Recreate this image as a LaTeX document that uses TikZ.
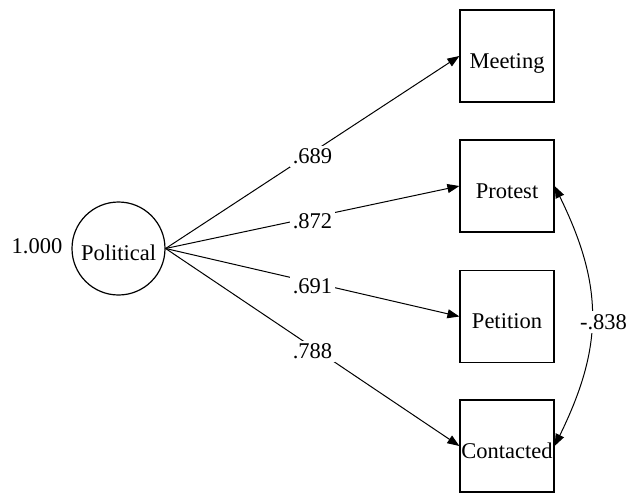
\documentclass[tikz,border=0pt]{standalone}
\usepackage{fontspec}
\setmainfont{Liberation Serif}
\usetikzlibrary{arrows.meta}
\begin{document}
\begin{tikzpicture}[x=0.5pt,y=-0.5pt,
  every node/.style={font=\fontsize{11.25}{13}\selectfont},
  latent/.style={draw, circle, line width=0.6pt, minimum size=46.5pt, inner sep=0pt, text height=11.5pt, text depth=0pt},
  observed/.style={draw, rectangle, line width=0.6pt, minimum width=47pt, minimum height=46pt, inner sep=0pt, text height=12pt, text depth=0pt},
  path/.style={line width=0.5pt, -{Triangle[length=6pt,width=4.5pt]}},
  covpath/.style={line width=0.5pt, {Triangle[length=6pt,width=4.5pt]}-{Triangle[length=6pt,width=4.5pt]}},
  coef/.style={fill=white, inner sep=1.5pt}]
  \useasboundingbox (0,0) rectangle (628,494);

  % latent factor and its variance
  \node[latent] (pol) at (118.5,248.5) {Political};
  \node[anchor=base] (var) at (37,253) {1.000};

  % observed indicators
  \node[observed] (meet) at (507,56) {Meeting};
  \node[observed] (prot) at (507,186) {Protest};
  \node[observed] (peti) at (507,316.5) {Petition};
  \node[observed] (cont) at (507,446) {Contacted};

  % factor loadings
  \draw[path] (pol.east) -- node[coef, yshift=-2pt] {.689} (meet.west);
  \draw[path] (pol.east) -- node[coef, yshift=-2pt] {.872} (prot.west);
  \draw[path] (pol.east) -- node[coef, yshift=-2pt] {.691} (peti.west);
  \draw[path] (pol.east) -- node[coef, yshift=-2pt] {.788} (cont.west);

  % residual covariance
  \draw[covpath] (prot.east) .. controls +(49,100) and +(49,-100) .. (cont.east);
  \node[coef] (cov) at (603.5,322) {-.838};
\end{tikzpicture}
\end{document}
